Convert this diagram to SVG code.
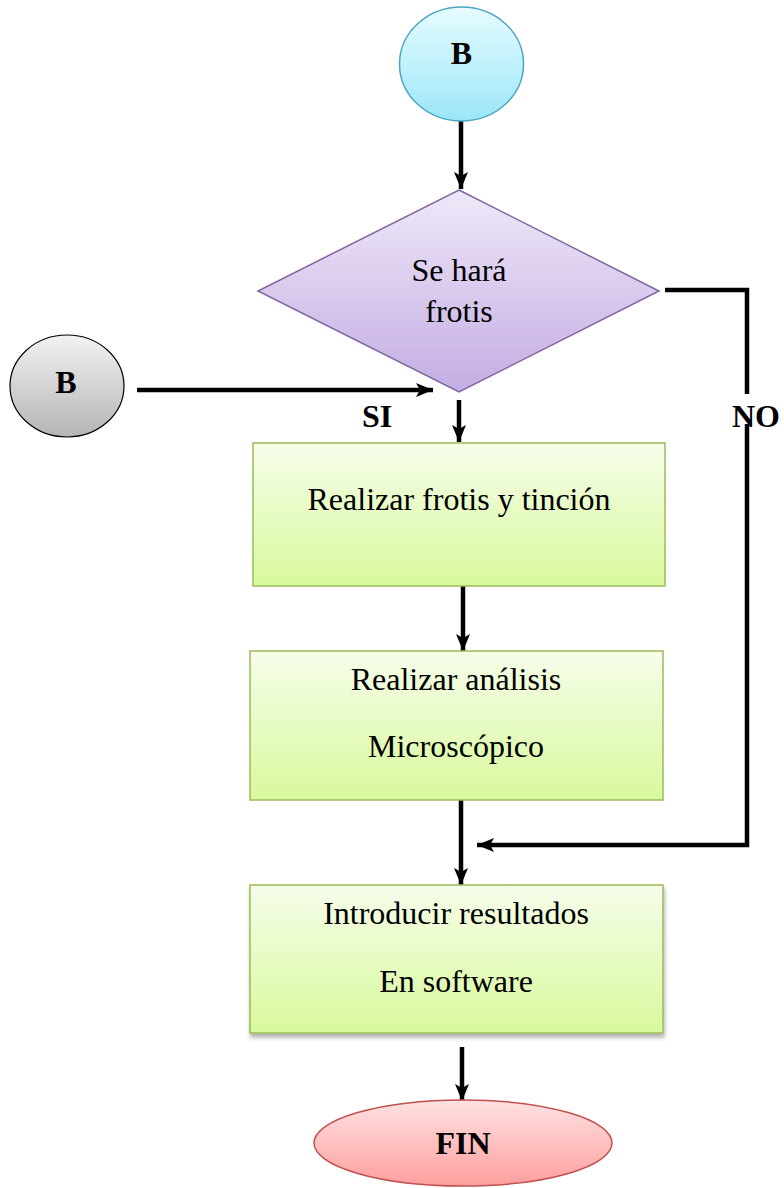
<svg xmlns="http://www.w3.org/2000/svg" width="784" height="1188" viewBox="0 0 784 1188">
<style>
.t{font-family:"Liberation Serif","Times New Roman",serif;font-size:32px;fill:#000;text-anchor:middle}
.b{font-weight:bold}
.con{stroke:#000;stroke-width:4.5;fill:none}
.box{stroke:#9bbb59;stroke-width:1.5;fill:url(#gGreen)}
</style>
<defs>
<linearGradient id="gCyan" x1="0" y1="0" x2="0" y2="1"><stop offset="0" stop-color="#e6fcff"/><stop offset="1" stop-color="#9be6f8"/></linearGradient>
<linearGradient id="gGray" x1="0" y1="0" x2="0" y2="1"><stop offset="0" stop-color="#f2f2f2"/><stop offset="1" stop-color="#b5b5b5"/></linearGradient>
<linearGradient id="gPurple" x1="0" y1="0" x2="0" y2="1"><stop offset="0" stop-color="#efe8f8"/><stop offset="1" stop-color="#c3ade3"/></linearGradient>
<linearGradient id="gGreen" x1="0" y1="0" x2="0" y2="1"><stop offset="0" stop-color="#f6fdea"/><stop offset="1" stop-color="#d8f99c"/></linearGradient>
<linearGradient id="gRed" x1="0" y1="0" x2="0" y2="1"><stop offset="0" stop-color="#ffe2e2"/><stop offset="1" stop-color="#ff9e9e"/></linearGradient>
<filter id="sh" x="-10%" y="-10%" width="120%" height="130%"><feDropShadow dx="1" dy="4" stdDeviation="2" flood-color="#000" flood-opacity="0.3"/></filter>
<marker id="ah" markerUnits="userSpaceOnUse" markerWidth="18" markerHeight="18" viewBox="0 0 18 18" refX="17" refY="9" orient="auto"><path d="M0,2 L17,9 L0,16 L4,9 Z" fill="#000"/></marker>
</defs>

<g id="connectors">
<line class="con" x1="461" y1="121" x2="461" y2="189" marker-end="url(#ah)"/>
<line class="con" x1="137" y1="390" x2="433" y2="390" marker-end="url(#ah)"/>
<line class="con" x1="459" y1="400" x2="459" y2="442" marker-end="url(#ah)"/>
<line class="con" x1="463" y1="575" x2="463" y2="651" marker-end="url(#ah)"/>
<line class="con" x1="461" y1="797" x2="461" y2="885" marker-end="url(#ah)"/>
<line class="con" x1="462" y1="1047" x2="462" y2="1101" marker-end="url(#ah)"/>
<polyline class="con" points="665,290 747,290 747,845 477,845" marker-end="url(#ah)"/>
<rect x="730" y="394" width="52" height="30" fill="#fff"/>
<text class="t b" x="756" y="427">NO</text>
<text class="t b" x="377" y="427">SI</text>
</g>

<g id="startB">
<ellipse cx="461.5" cy="64" rx="62" ry="57" fill="url(#gCyan)" stroke="#4ba7c1" stroke-width="1.5"/>
<text class="t b" x="461.5" y="64">B</text>
</g>

<g id="decision">
<polygon points="459,190 659,291 459,392 258,291" fill="url(#gPurple)" stroke="#8064a2" stroke-width="1.5"/>
<text class="t" x="459" y="281">Se hará</text>
<text class="t" x="459" y="322">frotis</text>
</g>

<g id="connectorB">
<ellipse cx="67" cy="386" rx="57" ry="51" fill="url(#gGray)" stroke="#000" stroke-width="1.2"/>
<text class="t b" x="66" y="393">B</text>
</g>

<g id="box1">
<rect class="box" x="253" y="443" width="412" height="143"/>
<text class="t" x="459" y="510">Realizar frotis y tinción</text>
</g>

<g id="box2">
<rect class="box" x="250" y="651" width="413" height="149"/>
<text class="t" x="456" y="690">Realizar análisis</text>
<text class="t" x="456" y="757">Microscópico</text>
</g>

<g id="box3">
<rect class="box" x="250" y="885" width="413" height="148" filter="url(#sh)"/>
<text class="t" x="456" y="924">Introducir resultados</text>
<text class="t" x="456" y="992">En software</text>
</g>

<g id="fin">
<ellipse cx="463" cy="1143" rx="149" ry="43" fill="url(#gRed)" stroke="#c0504d" stroke-width="1.5"/>
<text class="t b" x="463" y="1154">FIN</text>
</g>
</svg>
